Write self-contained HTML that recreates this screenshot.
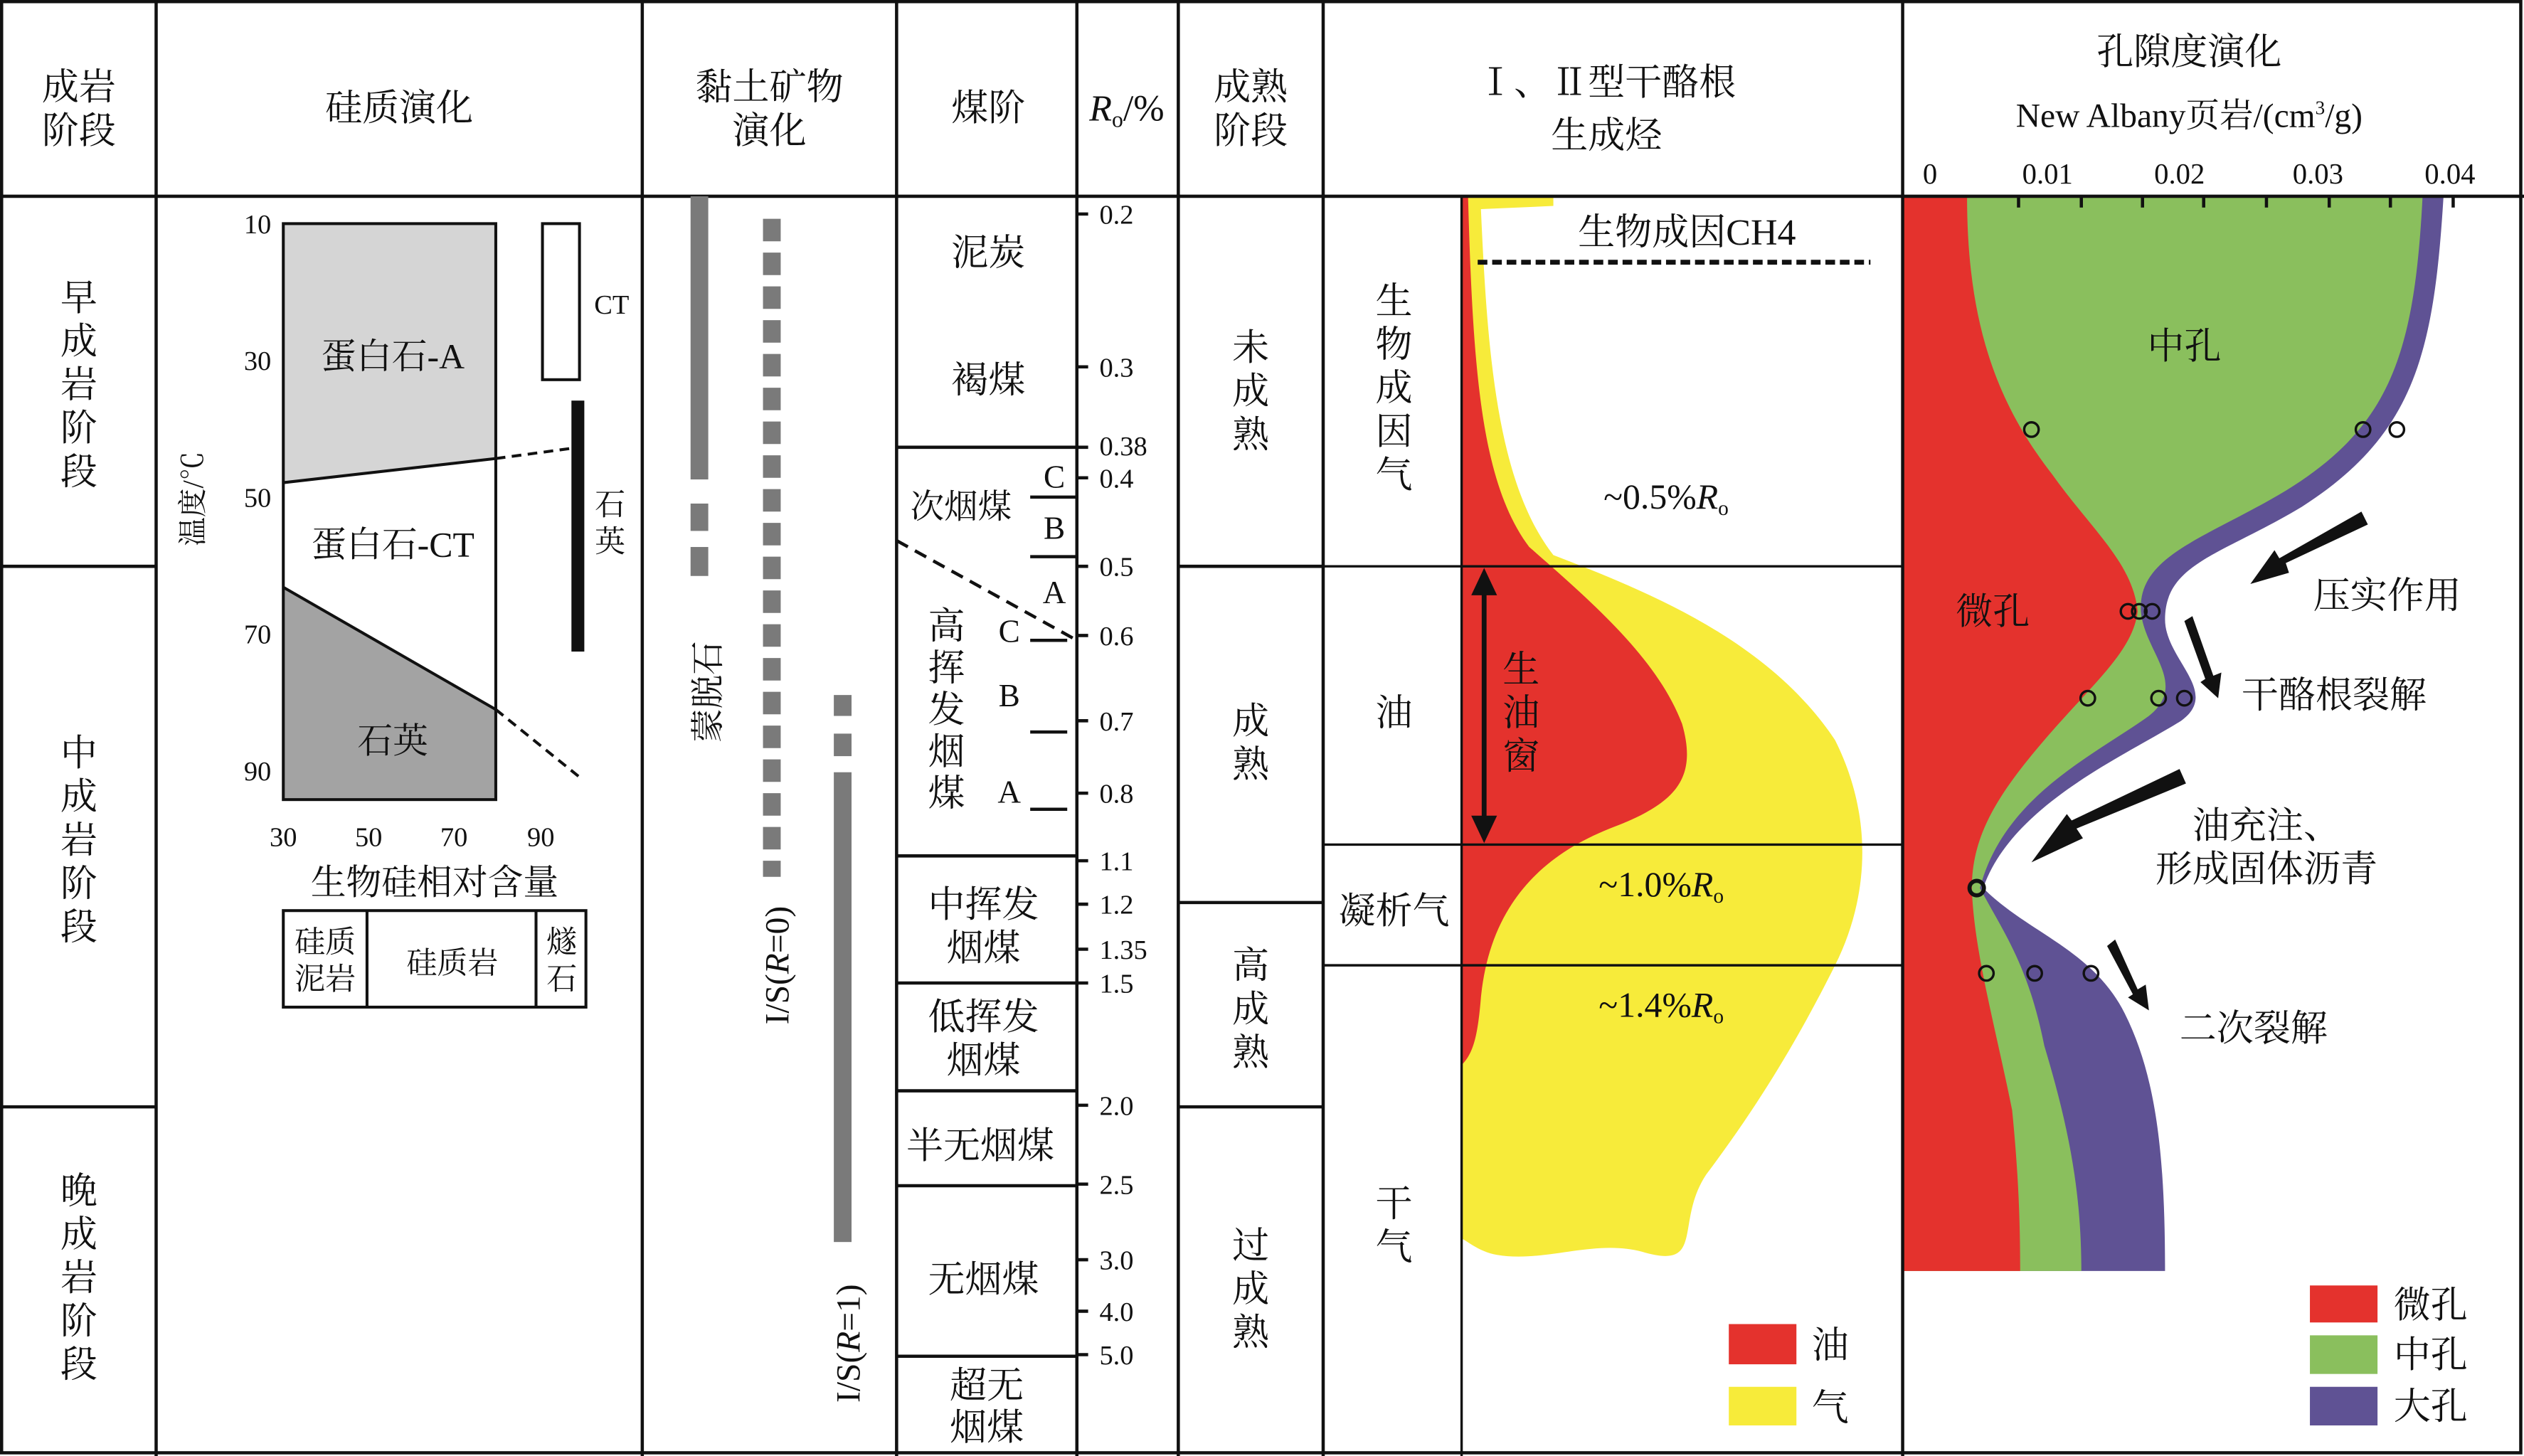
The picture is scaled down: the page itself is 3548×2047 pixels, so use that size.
<!DOCTYPE html>
<html><head><meta charset="utf-8"><style>
html,body{margin:0;padding:0;background:#fff}
svg{display:block}
text{font-family:"Liberation Serif","Noto Serif CJK SC",serif;fill:#111}
.c{text-anchor:middle}
</style></head><body>
<svg width="3548" height="2047" viewBox="0 0 1568 905" preserveAspectRatio="none" xmlns="http://www.w3.org/2000/svg">
<rect width="1568" height="905" fill="#fff"/>
<!-- porosity fills -->
<path d="M1182,122 L1518,122 C1512,220 1500,270 1430,315 C1380,345 1345,350 1345,385 C1345,410 1380,430 1355,448 C1320,470 1250,500 1232,552 C1260,580 1300,590 1320,630 C1340,670 1345,720 1345,790 L1182,790 Z" fill="#5f5294"/>
<path d="M1182,122 L1505,122 C1500,220 1485,265 1420,305 C1370,335 1328,345 1330,380 C1332,405 1360,425 1335,445 C1300,470 1245,495 1230,552 C1245,580 1260,600 1270,650 C1285,700 1293,740 1293,790 L1182,790 Z" fill="#8abf5d"/>
<path d="M1182,122 L1222,122 C1222,200 1240,250 1275,295 C1300,330 1325,350 1328,380 C1325,405 1300,425 1270,460 C1240,495 1225,520 1225,552 C1226,590 1240,640 1250,690 C1254,730 1255,760 1255,790 L1182,790 Z" fill="#e4322d"/>
<!-- HC fills -->
<path d="M908,122 L965,122 L965,128 L920,130 C924,220 930,300 965,345 C1030,370 1100,400 1140,460 C1165,510 1160,560 1140,600 C1115,650 1090,690 1060,730 C1040,760 1060,790 1020,778 C990,770 960,785 930,780 C918,778 910,770 908,770 Z" fill="#f7eb3a"/>
<path d="M908,122 L912,122 C915,230 920,300 950,340 C990,375 1030,410 1045,450 C1055,485 1040,500 1000,515 C950,535 925,570 920,620 C918,645 915,655 908,662 Z" fill="#e4322d"/>
<!-- grid -->
<g stroke="#111" stroke-width="2" fill="none">
<rect x="1" y="1" width="1565" height="902"/>
<line x1="0" y1="122" x2="1568" y2="122"/>
<line x1="97" y1="0" x2="97" y2="905"/>
<line x1="399" y1="0" x2="399" y2="905"/>
<line x1="557" y1="0" x2="557" y2="905"/>
<line x1="669" y1="0" x2="669" y2="905"/>
<line x1="732" y1="0" x2="732" y2="905"/>
<line x1="822" y1="0" x2="822" y2="905"/>
<line x1="1182" y1="0" x2="1182" y2="905"/>
<line x1="908" y1="122" x2="908" y2="905" stroke-width="1.5"/>
<line x1="0" y1="352" x2="97" y2="352"/>
<line x1="0" y1="688" x2="97" y2="688"/>
<line x1="732" y1="352" x2="822" y2="352"/>
<line x1="732" y1="561" x2="822" y2="561"/>
<line x1="732" y1="688" x2="822" y2="688"/>
<line x1="822" y1="352" x2="1182" y2="352" stroke-width="1.5"/>
<line x1="822" y1="525" x2="1182" y2="525" stroke-width="1.5"/>
<line x1="822" y1="600" x2="1182" y2="600" stroke-width="1.5"/>
<line x1="557" y1="278" x2="676" y2="278"/>
<line x1="557" y1="532" x2="669" y2="532"/>
<line x1="557" y1="611" x2="676" y2="611"/>
<line x1="557" y1="678" x2="669" y2="678"/>
<line x1="557" y1="737" x2="669" y2="737"/>
<line x1="557" y1="843" x2="669" y2="843"/>
<line x1="640" y1="309" x2="669" y2="309"/>
<line x1="640" y1="346" x2="669" y2="346"/>
<line x1="640" y1="398" x2="663" y2="398"/>
<line x1="640" y1="455" x2="663" y2="455"/>
<line x1="640" y1="503" x2="663" y2="503"/>
<line x1="557" y1="336" x2="669" y2="398" stroke-dasharray="8,5"/>
<line x1="918" y1="163" x2="1162" y2="163" stroke-width="3" stroke-dasharray="6,3"/>
</g>
<!-- Ro ticks -->
<g stroke="#111" stroke-width="2">
<line x1="669" y1="133" x2="676" y2="133"/><line x1="669" y1="228" x2="676" y2="228"/><line x1="669" y1="297" x2="676" y2="297"/><line x1="669" y1="352" x2="676" y2="352"/><line x1="669" y1="395" x2="676" y2="395"/><line x1="669" y1="448" x2="676" y2="448"/><line x1="669" y1="493" x2="676" y2="493"/><line x1="669" y1="535" x2="676" y2="535"/><line x1="669" y1="562" x2="676" y2="562"/><line x1="669" y1="590" x2="676" y2="590"/><line x1="669" y1="687" x2="676" y2="687"/><line x1="669" y1="736" x2="676" y2="736"/><line x1="669" y1="783" x2="676" y2="783"/><line x1="669" y1="815" x2="676" y2="815"/><line x1="669" y1="842" x2="676" y2="842"/>
</g>
<g font-size="17">
<text x="683" y="139">0.2</text><text x="683" y="234">0.3</text><text x="683" y="283">0.38</text><text x="683" y="303">0.4</text><text x="683" y="358">0.5</text><text x="683" y="401">0.6</text><text x="683" y="454">0.7</text><text x="683" y="499">0.8</text><text x="683" y="541">1.1</text><text x="683" y="568">1.2</text><text x="683" y="596">1.35</text><text x="683" y="617">1.5</text><text x="683" y="693">2.0</text><text x="683" y="742">2.5</text><text x="683" y="789">3.0</text><text x="683" y="821">4.0</text><text x="683" y="848">5.0</text>
</g>
<!-- silica chart -->
<rect x="176" y="139" width="132" height="358" fill="#fff"/>
<path d="M176,139 L308,139 L308,285 L176,300 Z" fill="#d5d5d5"/>
<path d="M176,365 L308,441 L308,497 L176,497 Z" fill="#a3a3a3"/>
<g stroke="#111" stroke-width="1.8" fill="none">
<rect x="176" y="139" width="132" height="358"/>
<line x1="176" y1="300" x2="308" y2="285"/>
<line x1="176" y1="365" x2="308" y2="441"/>
<line x1="308" y1="285" x2="360" y2="278" stroke-dasharray="6,4"/>
<line x1="308" y1="441" x2="360" y2="483" stroke-dasharray="6,4"/>
<rect x="337" y="139" width="23" height="97"/>
<rect x="176" y="566" width="188" height="60"/>
<line x1="228" y1="566" x2="228" y2="626"/>
<line x1="333" y1="566" x2="333" y2="626"/>
</g>
<rect x="355" y="249" width="8" height="156" fill="#111"/>
<g font-size="17">
<text x="160" y="145" class="c">10</text><text x="160" y="230" class="c">30</text><text x="160" y="315" class="c">50</text><text x="160" y="400" class="c">70</text><text x="160" y="485" class="c">90</text>
<text x="176" y="526" class="c">30</text><text x="229" y="526" class="c">50</text><text x="282" y="526" class="c">70</text><text x="336" y="526" class="c">90</text>
<text x="380" y="195" class="c">CT</text>
</g>
<text x="126" y="310" font-size="18" class="c" transform="rotate(-90 126 310)">温度/℃</text>
<g font-size="22">
<text x="244" y="229" class="c">蛋白石-A</text>
<text x="244" y="346" class="c">蛋白石-CT</text>
<text x="244" y="468" class="c">石英</text>
<text x="270" y="556" class="c">生物硅相对含量</text>
</g>
<g font-size="19">
<text x="379" y="320" class="c">石</text><text x="379" y="343" class="c">英</text>
<text x="202" y="592" class="c">硅质</text><text x="202" y="615" class="c">泥岩</text>
<text x="281" y="605" class="c">硅质岩</text>
<text x="349" y="592" class="c">燧</text><text x="349" y="615" class="c">石</text>
</g>
<!-- clay bars -->
<g fill="#7a7a7a">
<rect x="429" y="122" width="11" height="176"/><rect x="429" y="313" width="11" height="17"/><rect x="429" y="340" width="11" height="18"/>
<rect x="518" y="432" width="11" height="13"/><rect x="518" y="456" width="11" height="14"/><rect x="518" y="480" width="11" height="292"/>
</g>
<line x1="479.5" y1="136" x2="479.5" y2="545" stroke="#7a7a7a" stroke-width="11" stroke-dasharray="14,7"/>
<g font-size="21">
<text x="447" y="430" class="c" transform="rotate(-90 447 430)">蒙脱石</text>
<text x="490" y="600" class="c" transform="rotate(-90 490 600)">I/S(<tspan font-style="italic">R</tspan>=0)</text>
<text x="534" y="835" class="c" transform="rotate(-90 534 835)">I/S(<tspan font-style="italic">R</tspan>=1)</text>
</g>
<!-- headers -->
<g font-size="23">
<text x="49" y="62" class="c">成岩</text><text x="49" y="89" class="c">阶段</text>
<text x="248" y="75" class="c">硅质演化</text>
<text x="478" y="62" class="c">黏土矿物</text><text x="478" y="89" class="c">演化</text>
<text x="614" y="75" class="c">煤阶</text>
<text x="700" y="75" class="c"><tspan font-style="italic">R</tspan><tspan font-size="14" dy="4">o</tspan><tspan dy="-4">/%</tspan></text>
<text x="777" y="62" class="c">成熟</text><text x="777" y="89" class="c">阶段</text>
<text x="998" y="59" class="c">Ⅰ、Ⅱ型干酪根</text><text x="998" y="92" class="c">生成烃</text>
<text x="1360" y="40" class="c">孔隙度演化</text>
<text x="1360" y="79" class="c" font-size="21">New Albany页岩/(cm<tspan font-size="12" dy="-8">3</tspan><tspan dy="8">/g)</tspan></text>
</g>
<g font-size="18">
<text x="1199" y="114" class="c">0</text><text x="1272" y="114" class="c">0.01</text><text x="1354" y="114" class="c">0.02</text><text x="1440" y="114" class="c">0.03</text><text x="1522" y="114" class="c">0.04</text>
</g>
<g stroke="#111" stroke-width="2">
<line x1="1254" y1="122" x2="1254" y2="129"/><line x1="1293" y1="122" x2="1293" y2="129"/><line x1="1331" y1="122" x2="1331" y2="129"/><line x1="1369" y1="122" x2="1369" y2="129"/><line x1="1408" y1="122" x2="1408" y2="129"/><line x1="1447" y1="122" x2="1447" y2="129"/><line x1="1485" y1="122" x2="1485" y2="129"/><line x1="1524" y1="122" x2="1524" y2="129"/>
</g>
<!-- vertical stage labels -->
<g font-size="23" class="c">
<text x="49" y="193" class="c">早</text><text x="49" y="220" class="c">成</text><text x="49" y="247" class="c">岩</text><text x="49" y="274" class="c">阶</text><text x="49" y="301" class="c">段</text>
<text x="49" y="476" class="c">中</text><text x="49" y="503" class="c">成</text><text x="49" y="530" class="c">岩</text><text x="49" y="557" class="c">阶</text><text x="49" y="584" class="c">段</text>
<text x="49" y="748" class="c">晚</text><text x="49" y="775" class="c">成</text><text x="49" y="802" class="c">岩</text><text x="49" y="829" class="c">阶</text><text x="49" y="856" class="c">段</text>
<text x="777" y="224" class="c">未</text><text x="777" y="251" class="c">成</text><text x="777" y="278" class="c">熟</text>
<text x="777" y="456" class="c">成</text><text x="777" y="483" class="c">熟</text>
<text x="777" y="608" class="c">高</text><text x="777" y="635" class="c">成</text><text x="777" y="662" class="c">熟</text>
<text x="777" y="782" class="c">过</text><text x="777" y="809" class="c">成</text><text x="777" y="836" class="c">熟</text>
<text x="866" y="195" class="c">生</text><text x="866" y="222" class="c">物</text><text x="866" y="249" class="c">成</text><text x="866" y="276" class="c">因</text><text x="866" y="303" class="c">气</text>
<text x="866" y="451" class="c">油</text>
<text x="866" y="574" class="c">凝析气</text>
<text x="866" y="756" class="c">干</text><text x="866" y="783" class="c">气</text>
<text x="945" y="424" class="c">生</text><text x="945" y="451" class="c">油</text><text x="945" y="478" class="c">窗</text>
<text x="588" y="397" class="c">高</text><text x="588" y="423" class="c">挥</text><text x="588" y="449" class="c">发</text><text x="588" y="475" class="c">烟</text><text x="588" y="501" class="c">煤</text>
<text x="614" y="165" class="c">泥炭</text><text x="614" y="244" class="c">褐煤</text>
<text x="597" y="322" class="c" font-size="21">次烟煤</text>
<text x="611" y="570" class="c">中挥发</text><text x="611" y="597" class="c">烟煤</text>
<text x="611" y="640" class="c">低挥发</text><text x="611" y="667" class="c">烟煤</text>
<text x="609" y="720" class="c">半无烟煤</text>
<text x="611" y="803" class="c">无烟煤</text>
<text x="613" y="869" class="c">超无</text><text x="613" y="895" class="c">烟煤</text>
<text x="1048" y="152" class="c">生物成因CH4</text>
<text x="1357" y="223" class="c">中孔</text>
<text x="1238" y="388" class="c">微孔</text>
<text x="1483" y="378" class="c">压实作用</text>
<text x="1450" y="440" class="c">干酪根裂解</text>
<text x="1408" y="521" class="c">油充注、</text>
<text x="1408" y="548" class="c">形成固体沥青</text>
<text x="1400" y="647" class="c">二次裂解</text>
<text x="1137" y="844" class="c">油</text><text x="1137" y="883" class="c">气</text>
<text x="1510" y="819" class="c">微孔</text><text x="1510" y="850" class="c">中孔</text><text x="1510" y="882" class="c">大孔</text>
</g>
<g font-size="20">
<text x="655" y="303" class="c">C</text><text x="655" y="335" class="c">B</text><text x="655" y="375" class="c">A</text>
<text x="627" y="399" class="c">C</text><text x="627" y="439" class="c">B</text><text x="627" y="499" class="c">A</text>
</g>
<g font-size="22">
<text x="1035" y="316" class="c">~0.5%<tspan font-style="italic">R</tspan><tspan font-size="13" dy="4">o</tspan></text>
<text x="1032" y="557" class="c">~1.0%<tspan font-style="italic">R</tspan><tspan font-size="13" dy="4">o</tspan></text>
<text x="1032" y="632" class="c">~1.4%<tspan font-style="italic">R</tspan><tspan font-size="13" dy="4">o</tspan></text>
</g>
<!-- oil window arrow -->
<line x1="922" y1="365" x2="922" y2="512" stroke="#111" stroke-width="3"/>
<polygon points="922,353 914,370 930,370" fill="#111"/><polygon points="922,524 914,507 930,507" fill="#111"/>
<!-- legends -->
<rect x="1074" y="823" width="42" height="25" fill="#e4322d"/><rect x="1074" y="862" width="42" height="24" fill="#f7eb3a"/>
<rect x="1435" y="799" width="42" height="23" fill="#e4322d"/><rect x="1435" y="830" width="42" height="24" fill="#8abf5d"/><rect x="1435" y="862" width="42" height="24" fill="#5f5294"/>
<!-- porosity arrows -->
<g fill="#111">
<polygon points="1467,318 1471,326 1420,350 1422,356 1398,363 1413,342 1416,347"/>
<polygon points="1357,386 1362,383 1375,420 1380,418 1378,434 1367,424 1370,422"/>
<polygon points="1354,478 1358,487 1290,515 1294,521 1262,536 1284,506 1287,510"/>
<polygon points="1309,588 1314,584 1328,615 1333,612 1335,628 1322,620 1325,618"/>
</g>
<g fill="none" stroke="#111" stroke-width="1.5">
<circle cx="1262" cy="267" r="4.5"/><circle cx="1468" cy="267" r="4.5"/><circle cx="1489" cy="267" r="4.5"/>
<circle cx="1322" cy="380" r="4.5"/><circle cx="1329" cy="380" r="4.5"/><circle cx="1337" cy="380" r="4.5"/>
<circle cx="1297" cy="434" r="4.5"/><circle cx="1341" cy="434" r="4.5"/><circle cx="1357" cy="434" r="4.5"/>
<circle cx="1228" cy="552" r="4.5" stroke-width="2.5"/>
<circle cx="1234" cy="605" r="4.5"/><circle cx="1264" cy="605" r="4.5"/><circle cx="1299" cy="605" r="4.5"/>
</g>
</svg>
</body></html>
